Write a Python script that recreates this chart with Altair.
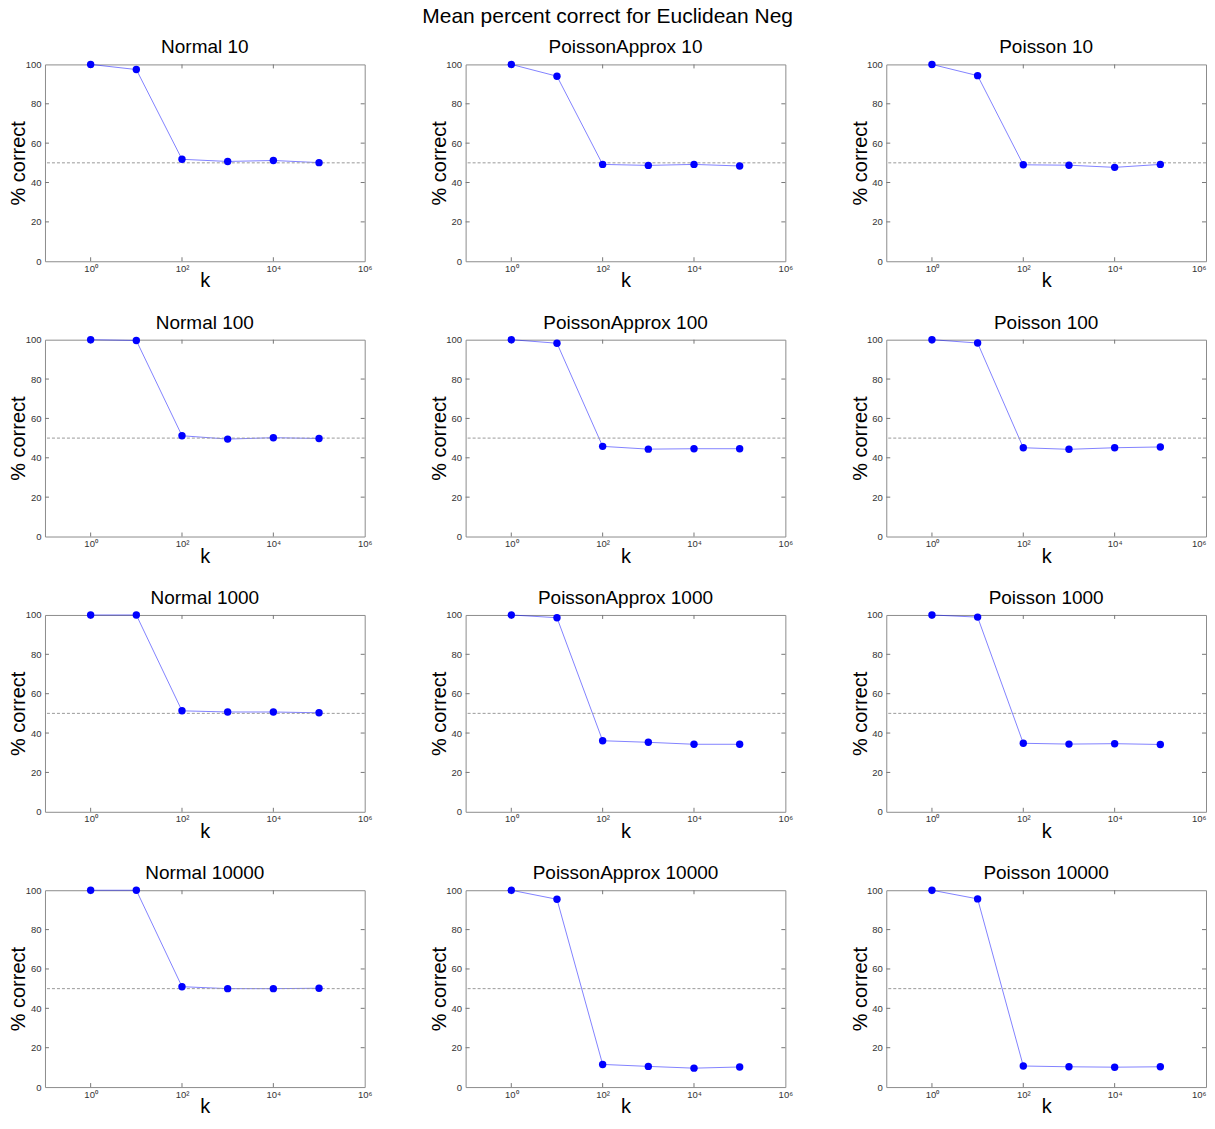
import altair as alt
import pandas as pd

# ---------------- data ----------------
k_values = [1, 10, 100, 1000, 10000, 100000]

panel_titles = [
    "Normal 10", "PoissonApprox 10", "Poisson 10",
    "Normal 100", "PoissonApprox 100", "Poisson 100",
    "Normal 1000", "PoissonApprox 1000", "Poisson 1000",
    "Normal 10000", "PoissonApprox 10000", "Poisson 10000",
]

normal_10 = [100, 97.4, 51.8, 50.7, 51.2, 50.1]
poissonapprox_10 = [100, 94.0, 49.2, 48.7, 49.2, 48.4]
poisson_10 = [100, 94.3, 49.0, 48.8, 47.7, 49.2]

normal_100 = [100, 99.6, 51.2, 49.5, 50.2, 49.8]
poissonapprox_100 = [100, 98.2, 45.8, 44.4, 44.6, 44.6]
poisson_100 = [100, 98.3, 45.1, 44.3, 45.1, 45.5]

normal_1000 = [100, 100, 51.3, 50.7, 50.7, 50.3]
poissonapprox_1000 = [100, 98.6, 36.1, 35.3, 34.3, 34.3]
poisson_1000 = [100, 98.9, 34.8, 34.4, 34.6, 34.2]

normal_10000 = [100, 100, 51.0, 50.0, 50.0, 50.2]
poissonapprox_10000 = [100, 95.4, 11.5, 10.5, 9.6, 10.2]
poisson_10000 = [100, 95.6, 10.7, 10.3, 10.1, 10.3]

series = [
    normal_10, poissonapprox_10, poisson_10,
    normal_100, poissonapprox_100, poisson_100,
    normal_1000, poissonapprox_1000, poisson_1000,
    normal_10000, poissonapprox_10000, poisson_10000,
]

chance_level = [50]
y_tick_values = [0, 20, 40, 60, 80, 100]
y_inner_ticks = [20, 40, 60, 80]
x_tick_values = [1, 100, 10000, 1000000]
x_inner_ticks = [1, 100, 10000]

# ---------------- styling ----------------
FONT = "Liberation Sans"
W, H = 320, 197
BLUE = "#0000ff"

x_scale = alt.Scale(type="log", domain=[0.1, 1000000], nice=False)
y_scale = alt.Scale(domain=[0, 100], nice=False)

x_label_expr = ("datum.value == 1 ? '10\u2070' : datum.value == 100 ? '10\u00b2' : "
                "datum.value == 10000 ? '10\u2074' : '10\u2076'")


def make_x_axis(flush):
    return alt.Axis(values=x_tick_values, labelExpr=x_label_expr, title="k",
                    ticks=False, domain=False, grid=False, labelFontSize=9.5,
                    labelColor="#333333", labelPadding=2, labelFlush=flush,
                    labelOverlap=False, titleFontSize=20, titleFontWeight="normal",
                    titleColor="#000000", titlePadding=-2)


y_axis = alt.Axis(values=y_tick_values, title="% correct", ticks=False,
                  domain=False, grid=False, labelFontSize=9.5,
                  labelColor="#333333", labelPadding=4, labelFlush=False,
                  labelOverlap=False, titleFontSize=20, titleFontWeight="normal",
                  titleColor="#000000", titlePadding=-3.6)


def Y(field):
    return alt.Y(field, type="quantitative", scale=y_scale, axis=y_axis)


def panel(title, values, flush):
    x_axis = make_x_axis(flush)

    def X(field):
        return alt.X(field, type="quantitative", scale=x_scale, axis=x_axis)

    df = pd.DataFrame({"k": k_values, "pc": values})
    base = alt.Chart(df)
    line = base.mark_line(color=BLUE, strokeWidth=0.9, opacity=0.55).encode(
        x=X("k"), y=Y("pc"))
    pts = base.mark_circle(color=BLUE, size=55, opacity=1).encode(x=X("k"), y=Y("pc"))
    ref = alt.Chart(pd.DataFrame({"c": chance_level})).mark_rule(
        color="#9a9a9a", strokeDash=[3, 2], strokeWidth=1
    ).encode(y=Y("c"))

    ydf = pd.DataFrame({"t": y_inner_ticks})
    yt_left = alt.Chart(ydf).mark_rule(color="#777777", strokeWidth=1).encode(
        y=Y("t"), x=alt.value(0), x2=alt.value(4))
    yt_right = alt.Chart(ydf).mark_rule(color="#777777", strokeWidth=1).encode(
        y=Y("t"), x=alt.value(W - 4), x2=alt.value(W))
    xdf = pd.DataFrame({"t": x_inner_ticks})
    xt_bot = alt.Chart(xdf).mark_rule(color="#777777", strokeWidth=1).encode(
        x=X("t"), y=alt.value(H - 4), y2=alt.value(H))
    xt_top = alt.Chart(xdf).mark_rule(color="#777777", strokeWidth=1).encode(
        x=X("t"), y=alt.value(0), y2=alt.value(4))

    return alt.layer(line, ref, yt_left, yt_right, xt_bot, xt_top, pts).properties(
        width=W, height=H,
        title=alt.Title(title, fontSize=19, fontWeight="normal", color="#000000",
                        font=FONT, offset=2, anchor="middle"),
    )


charts = [panel(t, s, i % 3 == 2) for i, (t, s) in enumerate(zip(panel_titles, series))]

chart = alt.concat(
    *charts, columns=3, spacing={"row": 78.5, "column": 101}, bounds="flush"
).properties(
    title=alt.Title("Mean percent correct for Euclidean Neg", fontSize=21,
                    fontWeight="normal", color="#000000", font=FONT, anchor="middle",
                    offset=10.5),
    padding={"top": -2, "left": 0, "right": 0, "bottom": 0},
).configure(font=FONT).configure_view(stroke="#8c8c8c", strokeWidth=1).configure_axis(
    labelFont=FONT, titleFont=FONT
)

chart.save("out.html", embed_options={"renderer": "svg", "actions": False})
